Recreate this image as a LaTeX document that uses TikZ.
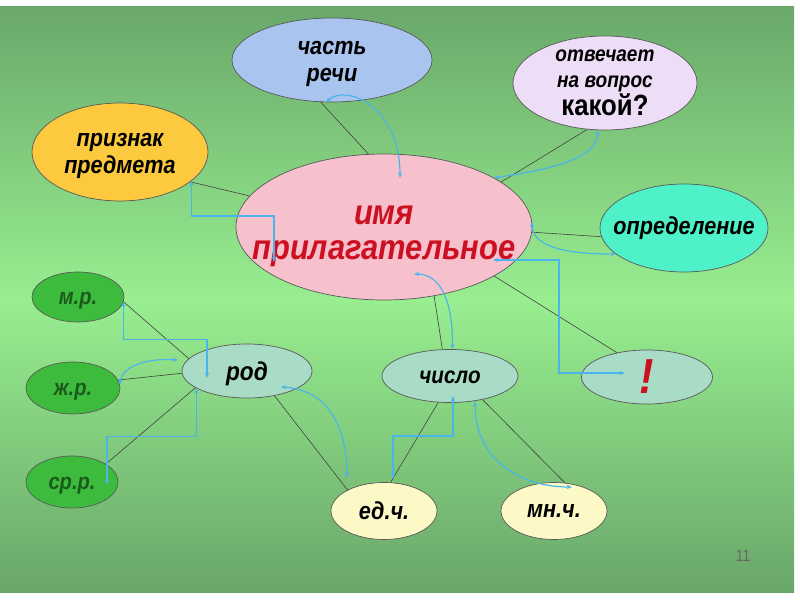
\documentclass[tikz,border=0pt]{standalone}
\usepackage{fontspec}
\setmainfont[FakeStretch=0.88]{Liberation Sans}
\usepackage{tikz}
\usetikzlibrary{ positioning, arrows.meta, calc, shapes.geometric }
\usepackage{xcolor}
\definecolor{bgTop}{HTML}{6AA86A}
\definecolor{bgMid}{HTML}{98EE90}
\definecolor{bgBot}{HTML}{69A669}
\definecolor{cBlue}{HTML}{A9C5EF}
\definecolor{cLav}{HTML}{EDDDF6}
\definecolor{cYel}{HTML}{FDC93E}
\definecolor{cPink}{HTML}{F6C1CD}
\definecolor{cAqua}{HTML}{4FF2C8}
\definecolor{cGrn}{HTML}{3DBB3D}
\definecolor{cDkGrn}{HTML}{1C5A1C}
\definecolor{cTeal}{HTML}{A9DCC6}
\definecolor{cCream}{HTML}{FCF9C6}
\definecolor{cRed}{HTML}{CC1022}
\definecolor{cArr}{HTML}{4AB5EA}

\begin{document}
\begin{tikzpicture}[
  x=0.03cm, y=-0.03cm,
  ov/.style={ellipse, draw=black!65, line width=0.6pt, inner sep=0pt},
  txt/.style={align=center, font=\bfseries\itshape\fontsize{21}{23}\selectfont},
  sm/.style={txt, text=cDkGrn, yshift=-3pt, font=\bfseries\itshape\fontsize{19.5}{20}\selectfont},
  ln/.style={draw=black!75, line width=0.5pt},
  bl/.style={{Stealth[length=4.5pt,width=3.5pt]}-{Stealth[length=4.5pt,width=3.5pt]}, line width=1pt, draw=cArr},
]
  \fill[white] (0,0) rectangle (800,600);
  \useasboundingbox (0,0) rectangle (800,600);
  \shade[top color=bgTop, bottom color=bgBot, middle color=bgMid] (0,7) rectangle (794,593);

  \node[ov, fill=cBlue, minimum width=6cm, minimum height=2.52cm, label={[txt, yshift=-3pt]center:часть\\речи}] (chast) at (332,60) {};
  \node[ov, fill=cLav, minimum width=5.52cm, minimum height=2.82cm,
        label={[txt, font=\bfseries\itshape\fontsize{18.5}{22}\selectfont]center:отвечает\\на вопрос\\[1pt]{\upshape\fontsize{25}{25}\selectfont какой?}}] (vopros) at (605,83) {};
  \node[ov, fill=cYel, minimum width=5.28cm, minimum height=2.94cm, label={[txt, yshift=-3pt]center:признак\\предмета}] (priznak) at (120,152) {};
  \node[ov, fill=cPink, minimum width=8.88cm, minimum height=4.38cm,
        label={[txt, text=cRed, yshift=-8pt, font=\bfseries\itshape\fontsize{30}{30}\selectfont]center:имя\\прилагательное}] (imya) at (384,227) {};
  \node[ov, fill=cAqua, minimum width=5.04cm, minimum height=2.64cm,
        label={[txt]center:определение}] (opred) at (684,228) {};
  \node[ov, fill=cGrn, minimum width=2.76cm, minimum height=1.5cm, label={[sm]center:м.р.}] (mr) at (78,297) {};
  \node[ov, fill=cGrn, minimum width=2.82cm, minimum height=1.56cm, label={[sm]center:ж.р.}] (zhr) at (73,388) {};
  \node[ov, fill=cGrn, minimum width=2.76cm, minimum height=1.56cm, label={[sm]center:ср.р.}] (srr) at (72,482) {};
  \node[ov, fill=cTeal, minimum width=3.9cm, minimum height=1.62cm,
        label={[txt, yshift=-2pt, font=\bfseries\itshape\fontsize{22}{22}\selectfont]center:род}] (rod) at (247,371) {};
  \node[ov, fill=cTeal, minimum width=4.08cm, minimum height=1.59cm,
        label={[txt, yshift=-1pt, font=\bfseries\itshape\fontsize{20}{20}\selectfont]center:число}] (chislo) at (450,376) {};
  \node[ov, fill=cTeal, minimum width=3.93cm, minimum height=1.62cm,
        label={[txt, text=cRed, font=\bfseries\itshape\fontsize{42}{42}\selectfont]center:!}] (excl) at (647,377) {};
  \node[ov, fill=cCream, minimum width=3.18cm, minimum height=1.71cm, label={[txt]center:ед.ч.}] (edch) at (384,511) {};
  \node[ov, fill=cCream, minimum width=3.18cm, minimum height=1.71cm, label={[txt]center:мн.ч.}] (mnch) at (554,511) {};
  \node[font=\fontsize{14}{14}\selectfont, text=black!60] (pg) at (743,556) {11};

  \draw[ln] (chast.255) -- (imya.102);
  \draw[ln] (priznak.337) -- (imya.167);
  \draw[ln] (vopros.249) -- (imya.21);
  \draw[ln] (opred.186) -- (imya.358);
  \draw[ln] (imya.336) -- (excl.141);
  \draw[ln] (imya.306) -- (chislo.106);
  \draw[ln] (mr.354) -- (rod.168);
  \draw[ln] (zhr.10) -- (rod.182);
  \draw[ln] (srr.28) -- (rod.198);
  \draw[ln] (rod.318) -- (edch.150);
  \draw[ln] (chislo.246) -- (edch.77);
  \draw[ln] (chislo.324) -- (mnch.69);

  \draw[bl] (chast.262) .. controls (345,84) and (400,105) .. ([shift={(16,-49)}]imya.center);
  \draw[bl] (vopros.261) .. controls (598,160) and (545,170) .. (imya.24);
  \draw[bl] (opred.201) .. controls (570,254) and (532,248) .. (imya.2);
  \draw[bl] (priznak.338) -- ++(0,35) -| ([shift={(-110,35)}]imya.center);
  \draw[bl] ([shift={(109,33)}]imya.center) -- ++(66,0) |- ([shift={(-22,-4)}]excl.center);
  \draw[bl] (chislo.85) .. controls (453,300) and (440,274) .. ([shift={(30,47)}]imya.center);
  \draw[bl] (mr.354) -- ++(0,38) -| ([shift={(-40,7)}]rod.center);
  \draw[bl] (zhr.4) .. controls (122,365) and (150,358) .. ([shift={(-69,-11)}]rod.center);
  \draw[bl] (rod.199) -- ++(0,48) -| ([shift={(35,3)}]srr.center);
  \draw[bl] ([shift={(34,16)}]rod.center) .. controls (330,390) and (347,430) .. ([shift={(-37,-33)}]edch.center);
  \draw[bl] ([shift={(3,20)}]chislo.center) -- ++(0,40) -| ([shift={(9,-32)}]edch.center);
  \draw[bl] ([shift={(25,25)}]chislo.center) .. controls (475,460) and (520,487) .. ([shift={(18,-24)}]mnch.center);
\end{tikzpicture}
\end{document}
